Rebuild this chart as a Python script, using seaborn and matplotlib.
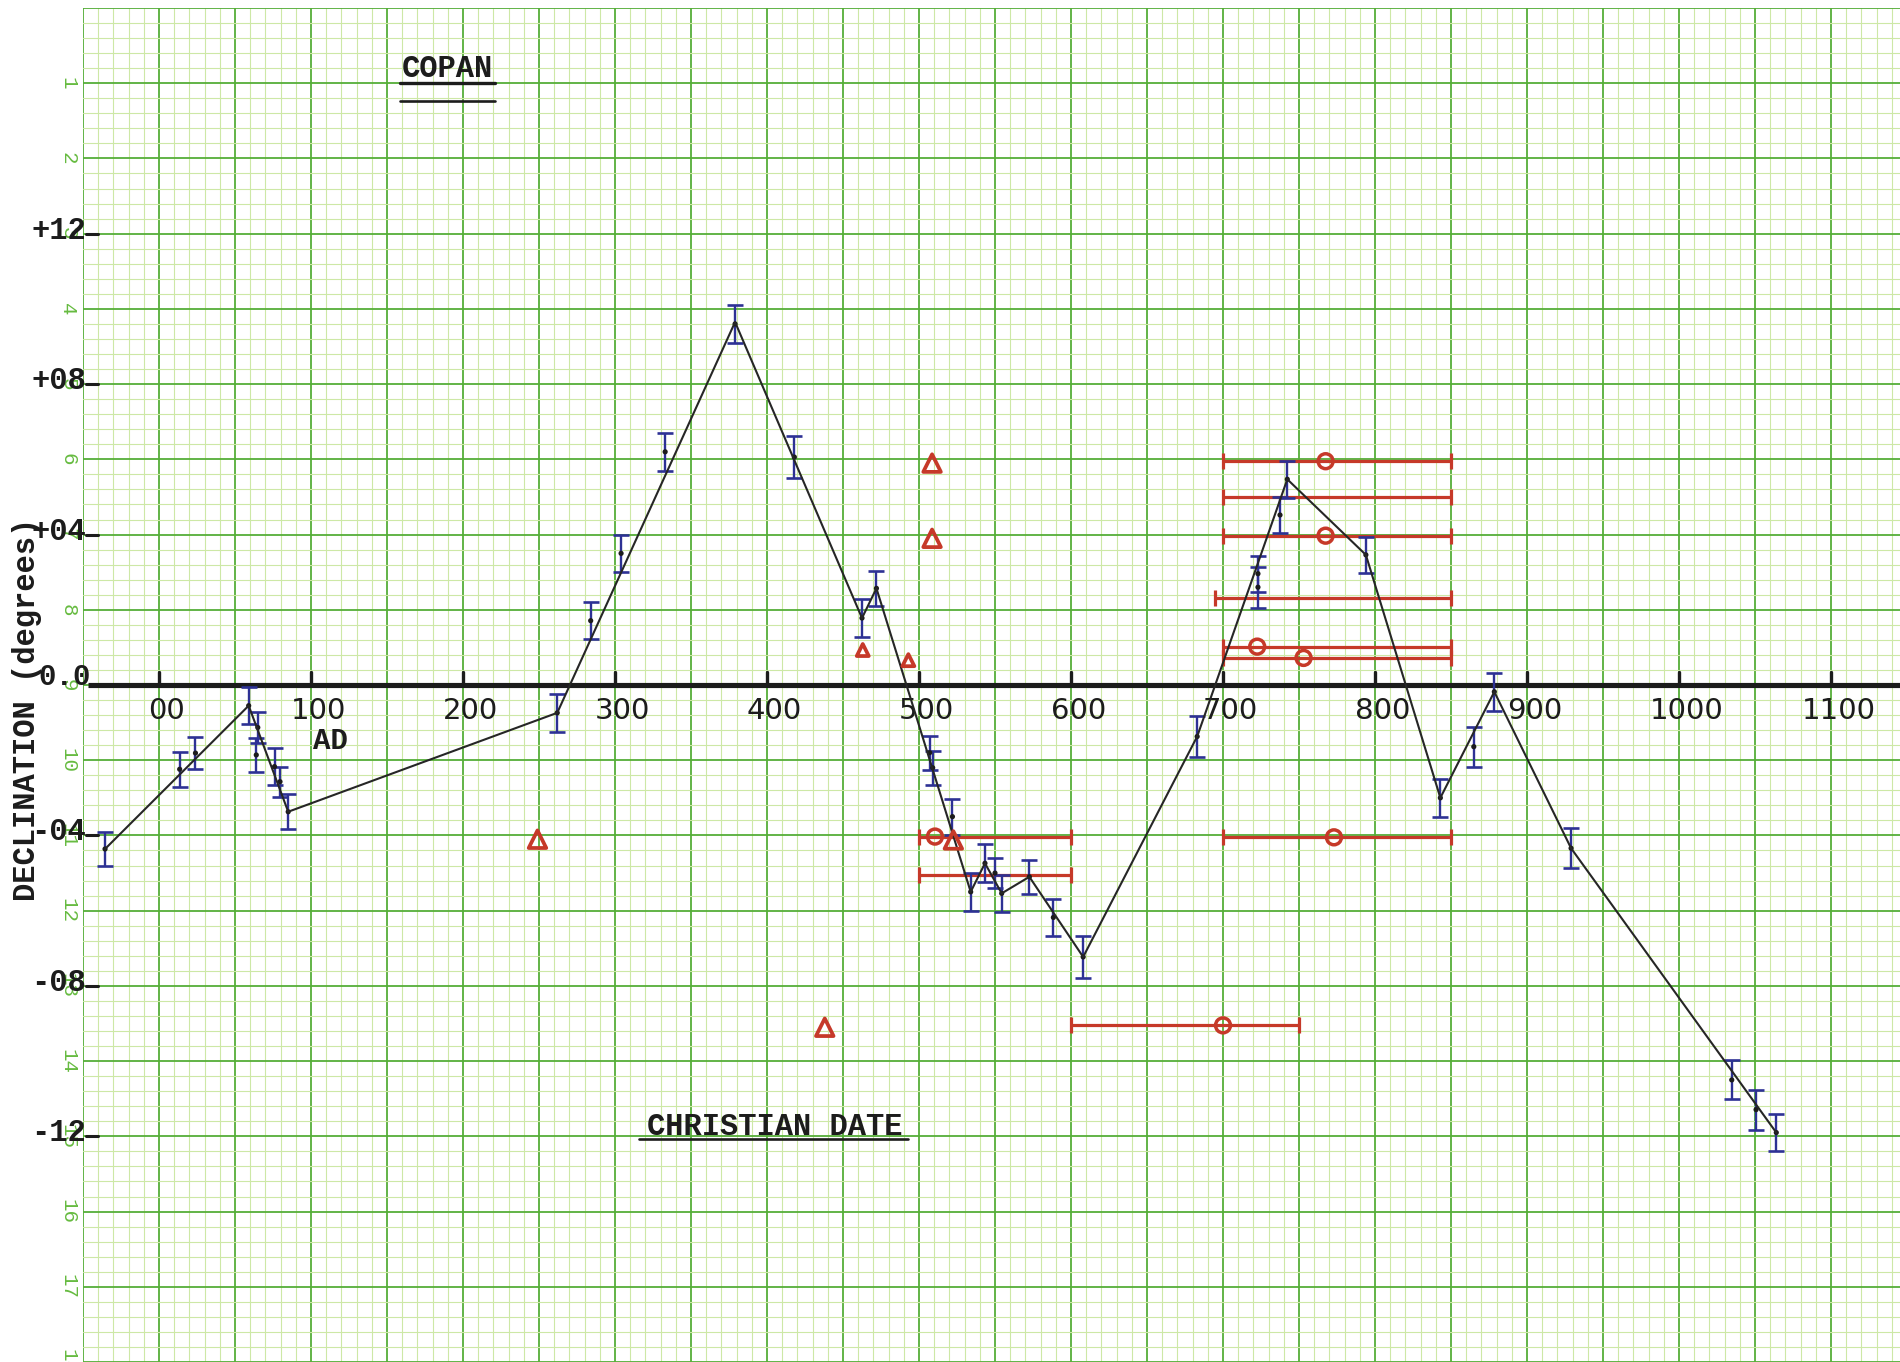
import numpy as np
import matplotlib
matplotlib.use("Agg")
import matplotlib.pyplot as plt
import seaborn as sns

# ---------------------------------------------------------------------------
# Copan: declination (degrees) against Christian date
# ---------------------------------------------------------------------------

# Measured declinations with their uncertainty (blue error bars)
obs_year = [-35.5, 13.6, 24, 59, 65, 64, 76, 79.6, 85, 262, 284, 304, 333, 379,
            418, 462.5, 472, 507, 509, 522, 534, 543.4, 550, 554.4, 572.6,
            588.4, 608, 683, 723, 723, 737.5, 742.3, 794, 843, 865, 878.5,
            929, 1034.7, 1050.7, 1064]
obs_decl = [-4.36, -2.24, -1.81, -0.55, -1.13, -1.86, -2.17, -2.57, -3.37,
            -0.74, 1.71, 3.5, 6.2, 9.6, 6.06, 1.78, 2.57, -1.8, -2.2, -3.5,
            -5.5, -4.74, -5.0, -5.54, -5.1, -6.18, -7.23, -1.37, 2.96, 2.6,
            4.52, 5.47, 3.46, -3.0, -1.64, -0.18, -4.34, -10.5, -11.29, -11.9]
obs_err = [0.45, 0.47, 0.43, 0.5, 0.42, 0.44, 0.49, 0.4, 0.47, 0.5, 0.5, 0.5,
           0.5, 0.5, 0.55, 0.5, 0.47, 0.45, 0.45, 0.48, 0.5, 0.5, 0.4, 0.5,
           0.45, 0.5, 0.55, 0.55, 0.48, 0.54, 0.48, 0.49, 0.48, 0.5, 0.53,
           0.5, 0.53, 0.52, 0.53, 0.5]

# Hand-fitted curve through the measurements
curve_year = [-35.5, 59, 85, 262, 379, 462.5, 472, 534, 543.4, 554.4, 572.6,
              608, 683, 742.3, 794, 843, 878.5, 929, 1064]
curve_decl = [-4.36, -0.55, -3.37, -0.74, 9.65, 1.78, 2.57, -5.5, -4.74,
              -5.54, -5.1, -7.23, -1.37, 5.47, 3.46, -3.0, -0.18, -4.34, -11.9]

# Date ranges (red bars) and the circles placed on them
range_start = [700, 700, 700, 695, 700, 700, 700, 500, 500, 600]
range_end = [850, 850, 850, 850, 850, 850, 850, 600, 600, 750]
range_decl = [5.95, 5.0, 3.97, 2.3, 1.02, 0.72, -4.05, -4.03, -5.05, -9.05]

circle_year = [767.5, 767.5, 722.5, 753, 773, 510.5, 700]
circle_decl = [5.95, 3.97, 1.02, 0.72, -4.05, -4.03, -9.05]

# Single red triangles
tri_year = [249, 438, 463, 493, 508.6, 508.6, 522.6]
tri_decl = [-4.1, -9.1, 0.93, 0.66, 5.9, 3.9, -4.12]
tri_big = [True, True, False, False, True, True, True]

# Axis lettering
xtick_years = list(range(0, 1101, 100))
xtick_text = ["00", "100", "200", "300", "400", "500", "600", "700", "800",
              "900", "1000", "1100"]
ytick_vals = [12, 8, 4, 0, -4, -8, -12]
ytick_text = ["+12", "+08", "+04", "0.0", "-04", "-08", "-12"]
paper_numbers = list(range(1, 19))

# ---------------------------------------------------------------------------
sns.set_theme(style="white")
plt.rcParams["font.family"] = ["DejaVu Sans"]

W, H, DPI = 1900, 1362, 100
fig = plt.figure(figsize=(W / DPI, H / DPI), dpi=DPI, facecolor="white")
ax = fig.add_axes([83 / W, 0.0, 1 - 83 / W, 1 - 8 / H])
ax.set_facecolor("white")

# graph paper: a heavy line every 50 years / 2 degrees, light lines between
ax.set_xticks(np.arange(-50, 1151, 50))
ax.set_xticks(np.arange(-50, 1151, 10), minor=True)
ax.set_yticks(np.arange(-18, 18.01, 2))
ax.set_yticks(np.arange(-18, 18.01, 0.4), minor=True)
ax.grid(which="minor", color="#cde8a6", lw=0.8)
ax.grid(which="major", color="#55ae38", lw=1.3)
ax.tick_params(which="both", length=0, labelbottom=False, labelleft=False)
for s in ax.spines.values():
    s.set_visible(False)
ax.set_axisbelow(True)
ax.set_xlim(-50, (W - 159) / 1.52)
ax.set_ylim(-18, 18)

GREEN_TXT = "#66bb40"
INK = "#1c1c1c"
RED = "#c63929"
BLUE = "#2d3194"
MONO = ["Liberation Mono", "DejaVu Sans Mono"]

# printed numbers of the paper rows
for n in paper_numbers:
    ax.text(-60, 18 - 2 * n, str(n), rotation=-90, color=GREEN_TXT,
            fontsize=15, family=MONO, ha="center", va="center",
            clip_on=False, zorder=2)

# hand-drawn time axis with its ticks
ax.plot([-47, 1146], [0, 0], color=INK, lw=3.7, solid_capstyle="butt",
        zorder=3, clip_on=False)
for yr, lab in zip(xtick_years, xtick_text):
    ax.plot([yr, yr], [0, 0.34], color=INK, lw=2.4, zorder=3)
    ax.text(yr + 5, -0.68, lab, color=INK, fontsize=21, ha="center",
            va="center", zorder=3)

# typed declination labels
for v, lab in zip(ytick_vals, ytick_text):
    if v == 0:
        ax.text(-62, 0.22, lab, color=INK, fontsize=21, family=MONO,
                fontweight="bold", ha="center", va="center", clip_on=False)
    else:
        ax.text(-66, v + 0.08, lab, color=INK, fontsize=22, family=MONO,
                fontweight="bold", ha="center", va="center", clip_on=False)
        ax.plot([-48, -40], [v, v], color=INK, lw=2.2, clip_on=False,
                zorder=3)

ax.text(-87, -0.64, "DECLINATION (degrees)", rotation=90, color=INK,
        fontsize=22, family=MONO, fontweight="bold", ha="center",
        va="center", clip_on=False)
ax.text(113, -1.49, "AD", color=INK, fontsize=21, family=MONO,
        fontweight="bold", ha="center", va="center")

# title with double underline
ax.text(190, 16.38, "COPAN", color=INK, fontsize=22, family=MONO,
        fontweight="bold", ha="center", va="center")
ax.plot([158.5, 221], [16.0, 16.0], color=INK, lw=2.4)
ax.plot([158.5, 221], [15.53, 15.53], color=INK, lw=1.9)

ax.text(405, -11.76, "CHRISTIAN DATE", color=INK, fontsize=22, family=MONO,
        fontweight="bold", ha="center", va="center")
ax.plot([316, 493], [-12.07, -12.07], color=INK, lw=1.9)

# red date ranges and symbols
r_start = np.array(range_start, dtype=float)
r_end = np.array(range_end, dtype=float)
ax.errorbar((r_start + r_end) / 2, range_decl, xerr=(r_end - r_start) / 2,
            fmt="none", ecolor=RED, elinewidth=2.3, capsize=5.5,
            capthick=2.3, zorder=4)
ax.scatter(circle_year, circle_decl, s=115, facecolors="none",
           edgecolors=RED, linewidths=2.5, zorder=7)
tri_sizes = [160 if b else 75 for b in tri_big]
ax.scatter(tri_year, tri_decl, marker="^", s=tri_sizes, facecolors="none",
           edgecolors=RED, linewidths=2.7, zorder=7)

# blue measurements with error bars
ax.errorbar(obs_year, obs_decl, yerr=obs_err, fmt="none", ecolor=BLUE,
            elinewidth=1.7, capsize=5.5, capthick=1.9, zorder=5)
sns.scatterplot(x=obs_year, y=obs_decl, color=INK, s=14, edgecolor="none",
                ax=ax, legend=False, zorder=6)

# fitted curve
sns.lineplot(x=curve_year, y=curve_decl, color="#262626", lw=1.5, ax=ax,
             sort=False, estimator=None, zorder=6)

fig.savefig("out.png", dpi=DPI, facecolor="white")
